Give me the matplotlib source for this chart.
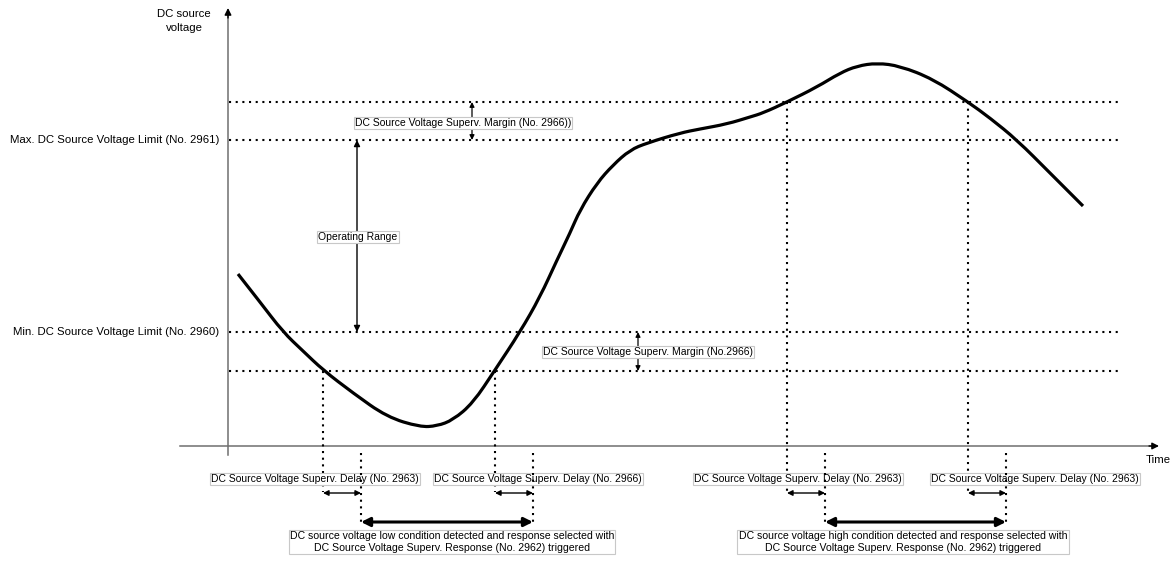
import matplotlib
matplotlib.use("Agg")
import matplotlib.pyplot as plt
from matplotlib.path import Path
from matplotlib.patches import PathPatch

plt.rcParams['font.family'] = ['Liberation Sans', 'DejaVu Sans']

# ---- data (diagram units: time -> x, voltage drawn with inverted screen axis) ----
curve_t = [238, 260, 283, 303, 323, 353, 387, 420, 437, 453, 473, 495, 520, 540,
           557, 570, 580, 597, 613, 630, 647, 680, 700, 727, 750, 763, 787, 817,
           840, 857, 877, 900, 933, 968, 990, 1017, 1050, 1083]
curve_v = [274, 302, 332, 351, 370, 393, 417, 427, 426, 420, 403, 370, 332, 297,
           260, 233, 210, 183, 165, 150, 143, 133, 129, 124, 117, 113, 102, 87,
           73, 66, 63, 66, 79, 102, 118, 140, 173, 206]

level_upper_margin = 102
level_max = 140
level_min = 332
level_lower_margin = 371

cross_times = [323, 495, 787, 968]     # curve crosses the supervision thresholds
trigger_times = [361, 533, 825, 1006]  # after delay

label_ylabel = "DC source\nvoltage"
label_xlabel = "Time"
label_max = "Max. DC Source Voltage Limit (No. 2961)"
label_min = "Min. DC Source Voltage Limit (No. 2960)"
label_margin_top = "DC Source Voltage Superv. Margin (No. 2966))"
label_margin_bot = "DC Source Voltage Superv. Margin (No.2966)"
label_range = "Operating Range"
delay_labels = ["DC Source Voltage Superv. Delay (No. 2963)",
                "DC Source Voltage Superv. Delay (No. 2966)",
                "DC Source Voltage Superv. Delay (No. 2963)",
                "DC Source Voltage Superv. Delay (No. 2963)"]
response_labels = ["DC source voltage low condition detected and response selected with\n"
                   "DC Source Voltage Superv. Response (No. 2962) triggered",
                   "DC source voltage high condition detected and response selected with\n"
                   "DC Source Voltage Superv. Response (No. 2962) triggered"]

# ---- figure ----
fig = plt.figure(figsize=(11.76, 5.61), dpi=100)
ax = fig.add_axes([0, 0, 1, 1])
ax.set_xlim(0, 1176)
ax.set_ylim(561, 0)
ax.axis('off')

FS = 7.45
FS_AX = 8.2
axis_col = '#6f6f6f'
box = dict(boxstyle='square,pad=0.12', fc='white', ec='#c8c8c8', lw=0.8)
dots = dict(color='black', lw=1.5, linestyle=(0, (1, 2.2)), dash_capstyle='butt')

# axes
ax.plot([228, 228], [455, 14], color=axis_col, lw=1.1, zorder=2)
ax.annotate('', xy=(228, 8), xytext=(228, 18),
            arrowprops=dict(arrowstyle='-|>', color='black', lw=1, mutation_scale=10,
                            shrinkA=0, shrinkB=0))
ax.plot([180, 1152], [446, 446], color=axis_col, lw=1.1, zorder=2)
ax.annotate('', xy=(1159, 446), xytext=(1149, 446),
            arrowprops=dict(arrowstyle='-|>', color='black', lw=1, mutation_scale=10,
                            shrinkA=0, shrinkB=0))
ax.text(184, 21, label_ylabel, ha='center', va='center', fontsize=FS_AX, linespacing=1.6)
ax.text(1158, 460, label_xlabel, ha='center', va='center', fontsize=FS_AX)

# horizontal levels
for lv in [level_upper_margin, level_max, level_min, level_lower_margin]:
    ax.plot([229, 1118], [lv, lv], zorder=3, **dots)
ax.text(219, level_max, label_max, ha='right', va='center', fontsize=FS_AX)
ax.text(219, level_min, label_min, ha='right', va='center', fontsize=FS_AX)

# vertical dotted lines
cross_levels = [level_lower_margin, level_lower_margin, level_upper_margin, level_upper_margin]
for tc, lv in zip(cross_times, cross_levels):
    ax.plot([tc, tc], [lv, 492], zorder=3, **dots)
for tt in trigger_times:
    ax.plot([tt, tt], [453, 523], zorder=6, **dots)

# curve: smooth quadratic Bezier path through midpoints of the read points
pts = list(zip(curve_t, curve_v))
verts = [pts[0]]
codes = [Path.MOVETO]
for i in range(1, len(pts) - 1):
    mid = ((pts[i][0] + pts[i + 1][0]) / 2, (pts[i][1] + pts[i + 1][1]) / 2)
    if i == len(pts) - 2:
        mid = pts[-1]
    verts += [pts[i], mid]
    codes += [Path.CURVE3, Path.CURVE3]
ax.add_patch(PathPatch(Path(verts, codes), fc='none', ec='black', lw=2.3,
                       capstyle='butt', joinstyle='round', zorder=4))

def dbl_arrow(x0, y0, x1, y1, lw=1.0, ms=8, z=5):
    ax.annotate('', xy=(x1, y1), xytext=(x0, y0),
                arrowprops=dict(arrowstyle='<|-|>', color='black', lw=lw,
                                mutation_scale=ms, shrinkA=0, shrinkB=0),
                zorder=z)

# margins & range
dbl_arrow(472, level_upper_margin, 472, level_max, lw=0.9, ms=7)
ax.text(463, 123, label_margin_top, ha='center', va='center', fontsize=FS, bbox=box, zorder=6)
dbl_arrow(638, level_min, 638, level_lower_margin, lw=0.9, ms=7)
ax.text(648, 352, label_margin_bot, ha='center', va='center', fontsize=FS, bbox=box, zorder=6)
dbl_arrow(357, level_max, 357, level_min, lw=1.0, ms=9)
ax.text(358, 237, label_range, ha='center', va='center', fontsize=FS, bbox=box, zorder=6)

# delay labels and arrows
delay_centers = [315, 538, 798, 1035]
for tc, tt, lab, cx in zip(cross_times, trigger_times, delay_labels, delay_centers):
    ax.text(cx, 479, lab, ha='center', va='center', fontsize=FS, bbox=box, zorder=5)
    dbl_arrow(tc, 493, tt, 493, lw=1.0, ms=8, z=7)

# response arrows
resp_pairs = [(trigger_times[0], trigger_times[1]), (trigger_times[2], trigger_times[3])]
resp_centers = [452, 903]
for (a, b), lab, cx in zip(resp_pairs, response_labels, resp_centers):
    dbl_arrow(a, 522, b, 522, lw=2.2, ms=13, z=7)
    ax.text(cx, 542, lab, ha='center', va='center', fontsize=7.6, bbox=box,
            linespacing=1.25, zorder=5)

fig.savefig('out.png', dpi=100, facecolor='white')
